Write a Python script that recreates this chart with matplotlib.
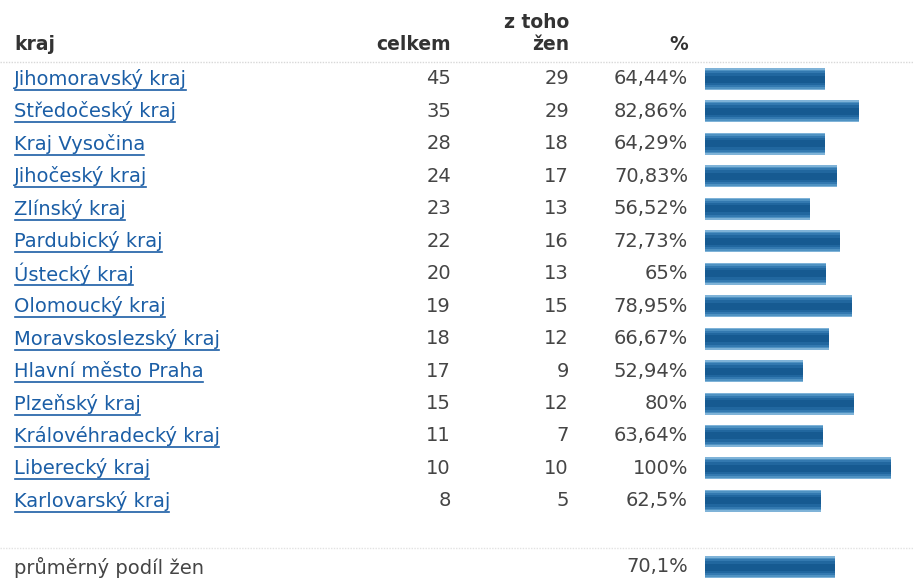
import numpy as np
import matplotlib
matplotlib.use("Agg")
import matplotlib.pyplot as plt

# data
kraje = ["Jihomoravský kraj", "Středočeský kraj", "Kraj Vysočina", "Jihočeský kraj",
         "Zlínský kraj", "Pardubický kraj", "Ústecký kraj", "Olomoucký kraj",
         "Moravskoslezský kraj", "Hlavní město Praha", "Plzeňský kraj",
         "Královéhradecký kraj", "Liberecký kraj", "Karlovarský kraj"]
celkem = [45, 35, 28, 24, 23, 22, 20, 19, 18, 17, 15, 11, 10, 8]
zen = [29, 29, 18, 17, 13, 16, 13, 15, 12, 9, 12, 7, 10, 5]
podil = [64.44, 82.86, 64.29, 70.83, 56.52, 72.73, 65, 78.95, 66.67, 52.94, 80, 63.64, 100, 62.5]
podil_txt = ["64,44%", "82,86%", "64,29%", "70,83%", "56,52%", "72,73%", "65%",
             "78,95%", "66,67%", "52,94%", "80%", "63,64%", "100%", "62,5%"]
prumer = 70.1
prumer_txt = "70,1%"

W, H = 914, 578
fig = plt.figure(figsize=(W / 100, H / 100), dpi=100)
ax = fig.add_axes([0, 0, 1, 1])
ax.set_xlim(0, W)
ax.set_ylim(H, 0)
ax.axis("off")

fs = 14
link = "#1b5ea6"
txt = "#454545"
row_y = 79 + np.arange(len(kraje)) * 32.45
avg_y = 567

# header
hdr = dict(fontsize=13.5, fontweight="bold", color="#333333", va="center")
ax.text(14, 45, "kraj", ha="left", **hdr)
ax.text(451, 45, "celkem", ha="right", **hdr)
ax.text(569, 22, "z toho", ha="right", **hdr)
ax.text(569, 45, "žen", ha="right", **hdr)
ax.text(688, 45, "%", ha="right", **hdr)

# separators
ax.plot([0, W], [62, 62], color="#d8d8d8", lw=1, ls=(0, (1, 1)))
ax.plot([0, W], [548, 548], color="#e2e2e2", lw=1, ls=(0, (1, 1)))

# bars (0-100 % mapped onto 186 px starting at 705), layered for a soft gradient
x0, span = 705, 186
w = np.array(podil) / 100 * span
wa = prumer / 100 * span
layers = [(22, "#7fb3d8"), (19, "#4f92c2"), (16, "#3379b0"), (12, "#21679f"), (7, "#165a91")]
for hh, col in layers:
    ax.barh(row_y, w, left=x0, height=hh, color=col, edgecolor="none")
    ax.barh([avg_y], [wa], left=x0, height=hh, color=col, edgecolor="none")

names = []
for i, y in enumerate(row_y):
    names.append(ax.text(14, y, kraje[i], ha="left", va="center", fontsize=fs, color=link))
    ax.text(451, y, str(celkem[i]), ha="right", va="center", fontsize=fs, color=txt)
    ax.text(569, y, str(zen[i]), ha="right", va="center", fontsize=fs, color=txt)
    ax.text(688, y, podil_txt[i], ha="right", va="center", fontsize=fs, color=txt)

ax.text(14, avg_y, "průměrný podíl žen", ha="left", va="center", fontsize=fs, color=txt)
ax.text(688, avg_y, prumer_txt, ha="right", va="center", fontsize=fs, color=txt)

# underline links
fig.canvas.draw()
r = fig.canvas.get_renderer()
inv = ax.transData.inverted()
for t, y in zip(names, row_y):
    bb = t.get_window_extent(r)
    (xa, _), (xb, _) = inv.transform([[bb.x0 + 1, bb.y0], [bb.x1 - 1, bb.y0]])
    ax.plot([xa, xb], [y + 11, y + 11], color=link, lw=1.2)

fig.savefig("out.png", dpi=100, facecolor="white")
